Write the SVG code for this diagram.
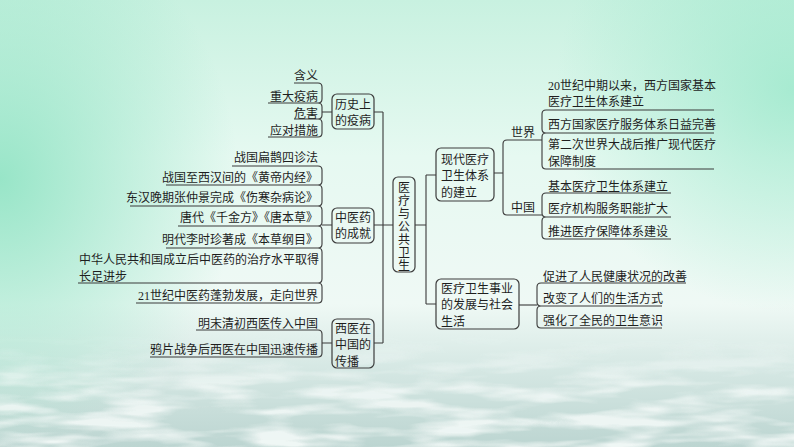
<svg xmlns="http://www.w3.org/2000/svg" width="794" height="447" viewBox="0 0 794 447">
<style>
.t{font-family:"Liberation Serif","Noto Sans CJK SC",serif;font-size:12px;fill:#1e1e1e}
.e{text-anchor:end}
.m{text-anchor:middle}
.ln{fill:none;stroke:#3a3a3a;stroke-width:1.1}
.bx{fill:none;stroke:#3d3d3d;stroke-width:1.2}
</style>
<defs>
<linearGradient id="bg" x1="0" y1="0" x2="0" y2="1">
<stop offset="0" stop-color="#c8f1e0"/>
<stop offset="0.35" stop-color="#e6f9f1"/>
<stop offset="0.68" stop-color="#eff9f5"/>
<stop offset="0.82" stop-color="#d6e8e4"/>
<stop offset="1" stop-color="#bcd5d1"/>
</linearGradient>
<radialGradient id="gl" cx="0" cy="0.4" r="0.6" gradientTransform="matrix(0.5 0 0 1 0 0)">
<stop offset="0" stop-color="#8fe3c3" stop-opacity="0.9"/>
<stop offset="1" stop-color="#8fe3c3" stop-opacity="0"/>
</radialGradient>
<radialGradient id="gr" cx="1" cy="0.2" r="0.5" gradientTransform="matrix(0.6 0 0 1 0.4 0)">
<stop offset="0" stop-color="#9be8cb" stop-opacity="0.8"/>
<stop offset="1" stop-color="#9be8cb" stop-opacity="0"/>
</radialGradient>
<linearGradient id="bm" x1="0" y1="0" x2="0" y2="1">
<stop offset="0" stop-color="#fff" stop-opacity="0"/>
<stop offset="0.5" stop-color="#fff" stop-opacity="0.8"/>
<stop offset="1" stop-color="#fff" stop-opacity="1"/>
</linearGradient>
<mask id="mk"><rect x="0" y="335" width="794" height="112" fill="url(#bm)"/></mask>
<filter id="nz" x="0" y="0" width="1" height="1">
<feTurbulence type="fractalNoise" baseFrequency="0.012 0.07" numOctaves="3" seed="4"/>
<feColorMatrix values="0 0 0 0 0.95  0 0 0 0 0.98  0 0 0 0 0.97  3.2 0 0 0 -1.3"/>
</filter>
</defs>
<g id="background">
<rect width="794" height="447" fill="url(#bg)"/>
<rect width="794" height="447" fill="url(#gl)"/>
<rect width="794" height="447" fill="url(#gr)"/>
<rect x="0" y="335" width="794" height="112" filter="url(#nz)" mask="url(#mk)" opacity="0.85"/>
</g>
<g id="connectors">
<path class="ln" d="M374 112H383M374 225H393M374 343H383M383 112V343"/>
<path class="ln" d="M415 225H426M426 175V304M426 175H436M426 304H436"/>
<path class="ln" d="M494 173H503M542 140H507Q503 140 503 144V211Q503 215 507 215H542"/>
<path class="ln" d="M519 305H537"/>
<path class="ln" d="M322 112H332M322 225H332M322 343H332"/>
</g>
<g id="central">
<rect class="bx" x="393" y="177" width="22" height="95" rx="5"/>
<text class="t m" x="404" y="192"><tspan x="404">医</tspan><tspan x="404" dy="13">疗</tspan><tspan x="404" dy="13">与</tspan><tspan x="404" dy="13">公</tspan><tspan x="404" dy="13">共</tspan><tspan x="404" dy="13">卫</tspan><tspan x="404" dy="13">生</tspan></text>
</g>
<g id="epidemic">
<rect class="bx" x="332" y="94" width="42" height="35" rx="5"/>
<text class="t" x="335" y="108.6">历史上</text>
<text class="t" x="335" y="124.6">的疫病</text>
<path class="ln" d="M294 83H318M268 103H318M294 119H318M268 137H318"/>
<path class="ln" d="M318 83Q322 83 322 87V99Q322 103 318 103Q322 103 322 107V115Q322 119 318 119Q322 119 322 123V133Q322 137 318 137"/>
<text class="t e" x="318" y="79.6">含义</text>
<text class="t e" x="318" y="100.6">重大疫病</text>
<text class="t e" x="318" y="117.6">危害</text>
<text class="t e" x="318" y="134.6">应对措施</text>
</g>
<g id="tcm">
<rect class="bx" x="332" y="208" width="42" height="35" rx="5"/>
<text class="t" x="335" y="221.6">中医药</text>
<text class="t" x="335" y="237.6">的成就</text>
<path class="ln" d="M232 166H318M166 185H318M130 206H318M178 226H318M166 248H318M78 283H318M136 303H318"/>
<path class="ln" d="M318 166Q322 166 322 170V181Q322 185 318 185Q322 185 322 189V202Q322 206 318 206Q322 206 322 210V222Q322 226 318 226Q322 226 322 230V244Q322 248 318 248Q322 248 322 252V279Q322 283 318 283Q322 283 322 287V299Q322 303 318 303"/>
<text class="t e" x="318" y="161.6">战国扁鹊四诊法</text>
<text class="t e" x="318" y="181.6">战国至西汉间的《黄帝内经》</text>
<text class="t e" x="318" y="201.6">东汉晚期张仲景完成《伤寒杂病论》</text>
<text class="t e" x="318" y="221.6">唐代《千金方》《唐本草》</text>
<text class="t e" x="318" y="243.6">明代李时珍著成《本草纲目》</text>
<text class="t" x="79" y="263.6">中华人民共和国成立后中医药的治疗水平取得</text>
<text class="t" x="79" y="280.6">长足进步</text>
<text class="t e" x="318" y="299.6">21世纪中医药蓬勃发展，走向世界</text>
</g>
<g id="western">
<rect class="bx" x="332" y="319" width="42" height="49" rx="5"/>
<text class="t" x="335" y="332.6">西医在</text>
<text class="t" x="335" y="348.6">中国的</text>
<text class="t" x="335" y="365.6">传播</text>
<path class="ln" d="M196 330H318M150 357H318"/>
<path class="ln" d="M318 330Q322 330 322 334V353Q322 357 318 357"/>
<text class="t e" x="318" y="327.6">明末清初西医传入中国</text>
<text class="t e" x="318" y="353.6">鸦片战争后西医在中国迅速传播</text>
</g>
<g id="modern">
<rect class="bx" x="436" y="148" width="58" height="53" rx="5"/>
<text class="t" x="441" y="163.6">现代医疗</text>
<text class="t" x="441" y="179.6">卫生体系</text>
<text class="t" x="441" y="196.6">的建立</text>
</g>
<g id="world">
<text class="t" x="511" y="136.6">世界</text>
<path class="ln" d="M546 110H714M546 133H714M546 169H714"/>
<path class="ln" d="M546 110Q542 110 542 114V129Q542 133 546 133Q542 133 542 137V165Q542 169 546 169"/>
<text class="t" x="548" y="89.6">20世纪中期以来，西方国家基本</text>
<text class="t" x="548" y="105.6">医疗卫生体系建立</text>
<text class="t" x="548" y="128.6">西方国家医疗服务体系日益完善</text>
<text class="t" x="548" y="148.6">第二次世界大战后推广现代医疗</text>
<text class="t" x="548" y="165.6">保障制度</text>
</g>
<g id="china">
<text class="t" x="511" y="211.6">中国</text>
<path class="ln" d="M546 193H671M546 217H671M546 239H671"/>
<path class="ln" d="M546 193Q542 193 542 197V213Q542 217 546 217Q542 217 542 221V235Q542 239 546 239"/>
<text class="t" x="548" y="190.6">基本医疗卫生体系建立</text>
<text class="t" x="548" y="212.6">医疗机构服务职能扩大</text>
<text class="t" x="548" y="235.6">推进医疗保障体系建设</text>
</g>
<g id="society">
<rect class="bx" x="436" y="279" width="83" height="50" rx="5"/>
<text class="t" x="441" y="292.6">医疗卫生事业</text>
<text class="t" x="441" y="308.6">的发展与社会</text>
<text class="t" x="441" y="325.6">生活</text>
<path class="ln" d="M541 283H686M541 306H662M541 328H662"/>
<path class="ln" d="M541 283Q537 283 537 287V302Q537 306 541 306Q537 306 537 310V324Q537 328 541 328"/>
<text class="t" x="543" y="280.6">促进了人民健康状况的改善</text>
<text class="t" x="543" y="302.6">改变了人们的生活方式</text>
<text class="t" x="543" y="324.6">强化了全民的卫生意识</text>
</g>
</svg>
